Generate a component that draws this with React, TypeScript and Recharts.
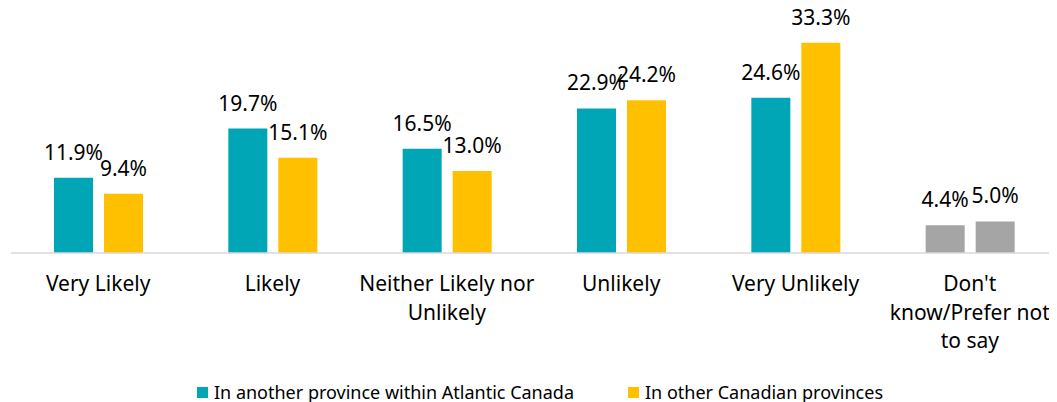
import React from "react";
import { BarChart, Bar, XAxis, YAxis, Cell, LabelList, Legend } from "recharts";

const categories = [
  "Very Likely",
  "Likely",
  "Neither Likely nor Unlikely",
  "Unlikely",
  "Very Unlikely",
  "Don't know/Prefer not to say",
];
const tickLabels = [
  ["Very Likely"],
  ["Likely"],
  ["Neither Likely nor", "Unlikely"],
  ["Unlikely"],
  ["Very Unlikely"],
  ["Don't", "know/Prefer not", "to say"],
];
const atlanticCanada = [11.9, 19.7, 16.5, 22.9, 24.6, 4.4];
const otherProvinces = [9.4, 15.1, 13.0, 24.2, 33.3, 5.0];
const seriesNames = ["In another province within Atlantic Canada", "In other Canadian provinces"];
const seriesColors = ["#00A6B5", "#FFC000"];
const otherColor = "#A5A5A5";
const otherIndex = 5;

const data = categories.map((c, i) => ({
  category: c,
  atlantic: atlanticCanada[i],
  other: otherProvinces[i],
}));

const FONT = "'Noto Sans', sans-serif";

function Tick(props: any) {
  const { x, y, payload } = props;
  const lines = tickLabels[payload.index] ?? [String(payload.value)];
  return (
    <text x={x} y={y} textAnchor="middle" fontFamily={FONT} fontSize={21} fill="#000">
      {lines.map((l, i) => (
        <tspan key={i} x={x} y={y + 38 + i * 28.5}>
          {l}
        </tspan>
      ))}
    </text>
  );
}

function ValueLabel(props: any) {
  const { x, y, width, value } = props;
  return (
    <text x={Number(x) + Number(width) / 2} y={Number(y) - 18} textAnchor="middle" fontFamily={FONT} fontSize={21} fill="#000">
      {Number(value).toFixed(1)}%
    </text>
  );
}

function LegendContent() {
  return (
    <div
      style={{
        display: "flex",
        justifyContent: "center",
        alignItems: "flex-end",
        height: 24,
        fontFamily: FONT,
        fontSize: 18,
        lineHeight: "20px",
        color: "#000",
        paddingLeft: 12,
      }}
    >
      {seriesNames.map((n, i) => (
        <div key={n} style={{ display: "flex", alignItems: "center", marginLeft: i === 0 ? 0 : 54 }}>
          <span style={{ display: "inline-block", width: 11, height: 11, background: seriesColors[i], marginRight: 6 }} />
          <span>{n}</span>
        </div>
      ))}
    </div>
  );
}

export default function App() {
  return (
    <div style={{ margin: "-8px 0 0 -8px", width: 1057, height: 402 }}>
      <BarChart
        width={1057}
        height={402}
        data={data}
        margin={{ top: 32, right: 0, left: 11, bottom: 0 }}
        barSize={39}
        barGap={11}
      >
        <XAxis
          dataKey="category"
          interval={0}
          tickLine={false}
          tickSize={0}
          tickMargin={0}
          axisLine={{ stroke: "#D9D9D9", strokeWidth: 1.5 }}
          tick={<Tick />}
          height={125}
        />
        <YAxis hide domain={[0, 35]} />
        <Legend verticalAlign="bottom" content={<LegendContent />} />
        <Bar dataKey="atlantic" name={seriesNames[0]} fill={seriesColors[0]} isAnimationActive={false}>
          {data.map((_, i) => (
            <Cell key={i} fill={i === otherIndex ? otherColor : seriesColors[0]} />
          ))}
          <LabelList dataKey="atlantic" content={<ValueLabel />} />
        </Bar>
        <Bar dataKey="other" name={seriesNames[1]} fill={seriesColors[1]} isAnimationActive={false}>
          {data.map((_, i) => (
            <Cell key={i} fill={i === otherIndex ? otherColor : seriesColors[1]} />
          ))}
          <LabelList dataKey="other" content={<ValueLabel />} />
        </Bar>
      </BarChart>
    </div>
  );
}
